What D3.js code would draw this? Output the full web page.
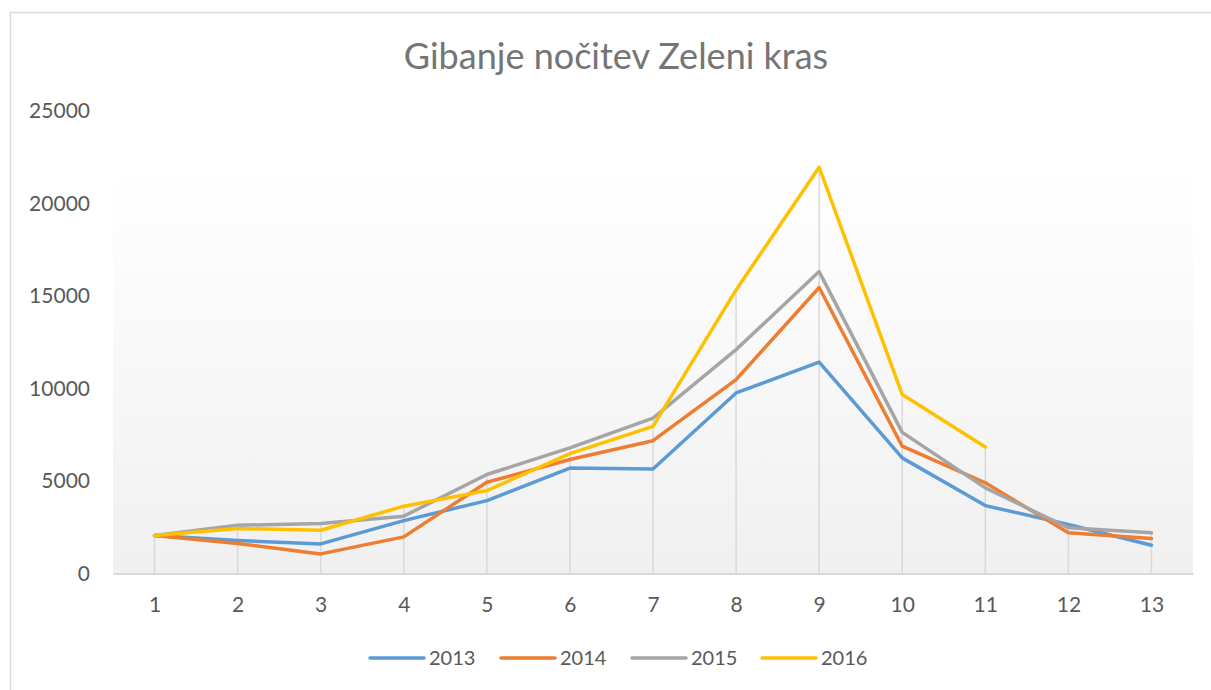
<!DOCTYPE html>
<html>
<head>
<meta charset="utf-8">
<script src="https://cdn.jsdelivr.net/npm/d3@7"></script>
<style>
  body { margin: 0; background: #fff; }
  svg { display: block; font-family: Lato, "Open Sans", sans-serif; }
</style>
</head>
<body>
<svg id="chart"></svg>
<script>
const categories = [1, 2, 3, 4, 5, 6, 7, 8, 9, 10, 11, 12, 13]
const yTicks = [0, 5000, 10000, 15000, 20000, 25000]

const s2013 = [2050, 1780, 1600, 2860, 3940, 5700, 5650, 9760, 11430, 6250, 3670, 2650, 1530]
const s2014 = [2050, 1620, 1060, 1980, 4930, 6160, 7180, 10480, 15460, 6880, 4900, 2200, 1890]
const s2015 = [2050, 2610, 2700, 3100, 5350, 6790, 8400, 12100, 16320, 7630, 4630, 2470, 2200]
const s2016 = [2050, 2430, 2340, 3640, 4480, 6480, 7950, 15330, 21960, 9670, 6840]

const seriesNames = ['2013', '2014', '2015', '2016']
const seriesColors = ['#5B9BD5', '#ED7D31', '#A5A5A5', '#FFC000']
const seriesValues = [s2013, s2014, s2015, s2016]

const W = 1211, H = 690
const plot = { left: 113, right: 1193, top: 111, bottom: 573.5 }

const svg = d3.select('#chart').attr('width', W).attr('height', H)

// chart border
svg.append('rect')
  .attr('x', 10.5).attr('y', 12.5).attr('width', 1230).attr('height', 700)
  .attr('fill', '#fff').attr('stroke', '#d9d9d9').attr('stroke-width', 1.5)

const defs = svg.append('defs')
const grad = defs.append('linearGradient').attr('id', 'bg').attr('x1', 0).attr('y1', 0).attr('x2', 0).attr('y2', 1)
grad.append('stop').attr('offset', '0%').attr('stop-color', '#ffffff')
grad.append('stop').attr('offset', '100%').attr('stop-color', '#f0f0f0')

svg.append('rect')
  .attr('x', plot.left).attr('y', 170)
  .attr('width', plot.right - plot.left).attr('height', plot.bottom - 170)
  .attr('fill', 'url(#bg)')

const x = d3.scalePoint().domain(categories).range([plot.left, plot.right]).padding(0.5)
const y = d3.scaleLinear().domain([0, 25000]).range([plot.bottom, plot.top])

// drop lines from the highest point of each category
const maxAt = categories.map((c, i) => d3.max(seriesValues, s => s[i]))
svg.append('g').selectAll('line')
  .data(categories)
  .join('line')
  .attr('x1', d => x(d)).attr('x2', d => x(d))
  .attr('y1', (d, i) => y(maxAt[i])).attr('y2', y(0))
  .attr('stroke', '#d9d9d9').attr('stroke-width', 1.5)

// x axis
const gX = svg.append('g')
  .attr('transform', `translate(0,${plot.bottom})`)
  .call(d3.axisBottom(x).tickSize(0).tickPadding(24))
gX.select('.domain').attr('stroke', '#d9d9d9').attr('stroke-width', 2)
gX.selectAll('text').attr('fill', '#595959').style('font-size', '21px').style('font-family', 'Lato, sans-serif')

// y axis
const gY = svg.append('g')
  .attr('transform', `translate(${plot.left},0)`)
  .call(d3.axisLeft(y).tickValues(yTicks).tickFormat(d3.format('d')).tickSize(0).tickPadding(23))
gY.select('.domain').remove()
gY.selectAll('text').attr('fill', '#595959').style('font-size', '21px').style('font-family', 'Lato, sans-serif')

// series lines
const line = d3.line().x((d, i) => x(categories[i])).y(d => y(d))
seriesValues.forEach((vals, k) => {
  svg.append('path')
    .datum(vals)
    .attr('d', line)
    .attr('fill', 'none')
    .attr('stroke', seriesColors[k])
    .attr('stroke-width', 3.5)
    .attr('stroke-linejoin', 'round')
    .attr('stroke-linecap', 'round')
})

// title
svg.append('text')
  .attr('x', 616).attr('y', 69)
  .attr('text-anchor', 'middle')
  .attr('fill', '#757575')
  .style('font-size', '36px')
  .text('Gibanje nočitev Zeleni kras')

// legend
const legendX = [370, 501, 632, 762]
const legend = svg.append('g').selectAll('g')
  .data(seriesNames)
  .join('g')
  .attr('transform', (d, i) => `translate(${legendX[i]},658)`)
legend.append('line')
  .attr('x1', 0).attr('x2', 54).attr('y1', 0).attr('y2', 0)
  .attr('stroke', (d, i) => seriesColors[i])
  .attr('stroke-width', 3.5).attr('stroke-linecap', 'round')
legend.append('text')
  .attr('x', 59).attr('y', 0).attr('dy', '0.36em')
  .attr('fill', '#595959')
  .style('font-size', '20px')
  .text(d => d)
</script>
</body>
</html>
